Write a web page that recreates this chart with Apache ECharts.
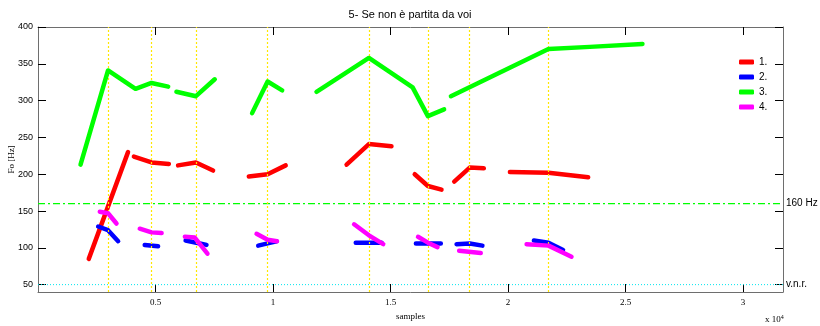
<!DOCTYPE html>
<html>
<head>
<meta charset="utf-8">
<script src="https://cdn.jsdelivr.net/npm/echarts@6/dist/echarts.min.js"></script>
<style>
  html, body { margin: 0; padding: 0; background: #fff; }
  #chart { width: 820px; height: 326px; }
</style>
</head>
<body>
<div id="chart"></div>
<script>
// Fo contours per speaker: each series is a list of voiced segments of [sample, Hz] points
const speaker1 = [
  [[2160, 85], [3830, 230]],
  [[4080, 224], [4830, 216], [5570, 214]],
  [[5960, 212], [6720, 216], [7450, 205]],
  [[8970, 197], [9770, 200], [10540, 212]],
  [[13130, 213], [14080, 241], [15040, 238]],
  [[16030, 200], [16590, 184], [17170, 179]],
  [[17710, 190], [18370, 209], [18970, 208]],
  [[20080, 203], [21720, 202], [23410, 196]]
];
const speaker2 = [
  [[2560, 129], [2980, 124], [3410, 109]],
  [[4540, 104], [5110, 102]],
  [[6280, 110], [6740, 107], [7170, 104]],
  [[9370, 103], [9770, 106], [10150, 109]],
  [[13520, 107], [14620, 107]],
  [[16080, 106], [17140, 106]],
  [[17810, 105], [18370, 106], [18910, 103]],
  [[21100, 110], [21720, 107], [22340, 97]]
];
const speaker3 = [
  [[1810, 213], [2980, 341], [4150, 316], [4830, 324], [5540, 319]],
  [[5890, 312], [6720, 306], [7520, 329]],
  [[9110, 283], [9770, 326], [10390, 314]],
  [[11850, 312], [14080, 358], [15940, 318], [16590, 279], [17280, 288]],
  [[17570, 306], [21720, 370], [23480, 373], [25720, 377]]
];
const speaker4 = [
  [[2630, 149], [2980, 147], [3340, 133]],
  [[4330, 126], [4830, 121], [5260, 120]],
  [[6250, 115], [6670, 114], [7210, 92]],
  [[9300, 119], [9770, 111], [10170, 109]],
  [[13450, 132], [14080, 117], [14690, 105]],
  [[16170, 115], [16590, 107], [17000, 101]],
  [[17920, 96], [18840, 93]],
  [[20790, 105], [21720, 103], [22700, 88]]
];

const seriesNames = ['1.', '2.', '3.', '4.'];
const seriesColors = ['#ff0000', '#0000ff', '#00ff00', '#ff00ff'];

// syllable boundary markers (samples)
const boundarySamples = [2980, 4820, 6720, 9770, 14080, 16590, 18350, 21720];
// reference levels (Hz)
const thresholdHz = 160;
const vnrHz = 50;

const xTicks = [5000, 10000, 15000, 20000, 25000, 30000];
const yTicks = [50, 100, 150, 200, 250, 300, 350, 400];
const xMax = 31700;
const yMin = 40;
const yMax = 400;

// join segments into one data list with gaps between them
function withGaps(segments) {
  const out = [];
  segments.forEach((seg, i) => {
    if (i > 0) out.push([seg[0][0] - 1, '-']);
    seg.forEach(p => out.push(p));
  });
  return out;
}

const chart = echarts.init(document.getElementById('chart'), null, { renderer: 'canvas' });

const axisGray = '#6e6e6e';
const tickStyle = { show: true, inside: true, length: 8, lineStyle: { color: '#000', width: 1 } };
const guideLabelFont = { color: '#000', fontFamily: 'Liberation Sans', fontSize: 10 };

const contourSeries = [speaker1, speaker2, speaker3, speaker4].map((segs, i) => ({
  name: seriesNames[i],
  type: 'line',
  data: withGaps(segs),
  connectNulls: false,
  showSymbol: false,
  symbol: 'none',
  animation: false,
  z: 3 + i,
  color: seriesColors[i],
  lineStyle: { color: seriesColors[i], width: 4.5, cap: 'round', join: 'round' },
  itemStyle: { color: seriesColors[i] }
}));

// horizontal reference level drawn across the whole x range, labelled past the right edge
function level(name, hz, color, dash, width, text) {
  return {
    name: name,
    type: 'line',
    data: [[0, hz], [xMax, hz]],
    showSymbol: false,
    symbol: 'none',
    silent: true,
    animation: false,
    z: 2,
    color: color,
    lineStyle: { color: color, type: dash, width: width },
    endLabel: Object.assign({ show: true, distance: 3, formatter: text }, guideLabelFont)
  };
}

const boundarySeries = {
  name: 'boundaries',
  type: 'line',
  data: [],
  silent: true,
  animation: false,
  z: 1,
  color: '#ffee00',
  markLine: {
    silent: true,
    symbol: 'none',
    animation: false,
    lineStyle: { color: '#ffe800', type: [2, 2], width: 1.2 },
    label: { show: false },
    data: boundarySamples.map(x => ({ xAxis: x }))
  }
};

chart.setOption({
  animation: false,
  title: {
    text: '5- Se non è partita da voi',
    left: 'center',
    top: 4,
    textStyle: { fontFamily: 'Liberation Sans', fontSize: 11, fontWeight: 'normal', color: '#000' }
  },
  grid: { left: 38, right: 37, top: 27, bottom: 34, containLabel: false, outerBoundsMode: 'none' },
  legend: {
    data: seriesNames,
    orient: 'vertical',
    left: 734,
    top: 51,
    itemWidth: 15,
    itemHeight: 5,
    itemGap: 3,
    icon: 'roundRect',
    textStyle: { fontFamily: 'Liberation Sans', fontSize: 10, color: '#000', lineHeight: 12 }
  },
  xAxis: [
    {
      type: 'value', min: 0, max: xMax, position: 'bottom',
      name: 'samples', nameLocation: 'middle', nameGap: 20, nameMoveOverlap: false,
      nameTextStyle: { fontFamily: 'Liberation Serif', fontSize: 9, color: '#000' },
      axisLine: { show: true, onZero: false, lineStyle: { color: axisGray } },
      axisTick: Object.assign({ customValues: xTicks }, tickStyle),
      axisLabel: {
        customValues: xTicks, margin: 6,
        formatter: v => String(v / 10000),
        fontFamily: 'Liberation Serif', fontSize: 9, color: '#000'
      },
      splitLine: { show: false }
    },
    {
      type: 'value', min: 0, max: xMax, position: 'top',
      axisLine: { show: true, onZero: false, lineStyle: { color: axisGray } },
      axisTick: Object.assign({ customValues: xTicks }, tickStyle),
      axisLabel: { show: false },
      splitLine: { show: false }
    }
  ],
  yAxis: [
    {
      type: 'value', min: yMin, max: yMax, position: 'left',
      name: 'Fo [Hz]', nameLocation: 'middle', nameGap: 22, nameMoveOverlap: false,
      nameTextStyle: { fontFamily: 'Liberation Serif', fontSize: 9, color: '#000' },
      axisLine: { show: true, onZero: false, lineStyle: { color: axisGray } },
      axisTick: Object.assign({ customValues: yTicks }, tickStyle),
      axisLabel: {
        customValues: yTicks, margin: 5,
        fontFamily: 'Liberation Sans', fontSize: 9, color: '#000'
      },
      splitLine: { show: false }
    },
    {
      type: 'value', min: yMin, max: yMax, position: 'right',
      axisLine: { show: true, onZero: false, lineStyle: { color: axisGray } },
      axisTick: Object.assign({ customValues: yTicks }, tickStyle),
      axisLabel: { show: false },
      splitLine: { show: false }
    }
  ],
  graphic: [
    {
      type: 'text',
      left: 765,
      top: 314,
      style: {
        text: 'x 10{s|4}',
        fill: '#000',
        font: '9px "Liberation Serif"',
        rich: { s: { fontSize: 6, verticalAlign: 'top', padding: [0, 0, 6, 0], fontFamily: 'Liberation Serif' } }
      }
    }
  ],
  series: [
    boundarySeries,
    level('threshold', thresholdHz, '#00ff00', [7, 3, 2, 3], 1.3, '160 Hz'),
    level('vnr', vnrHz, '#00e5ee', [1, 2], 1, 'v.n.r.'),
    ...contourSeries
  ]
});
</script>
</body>
</html>
